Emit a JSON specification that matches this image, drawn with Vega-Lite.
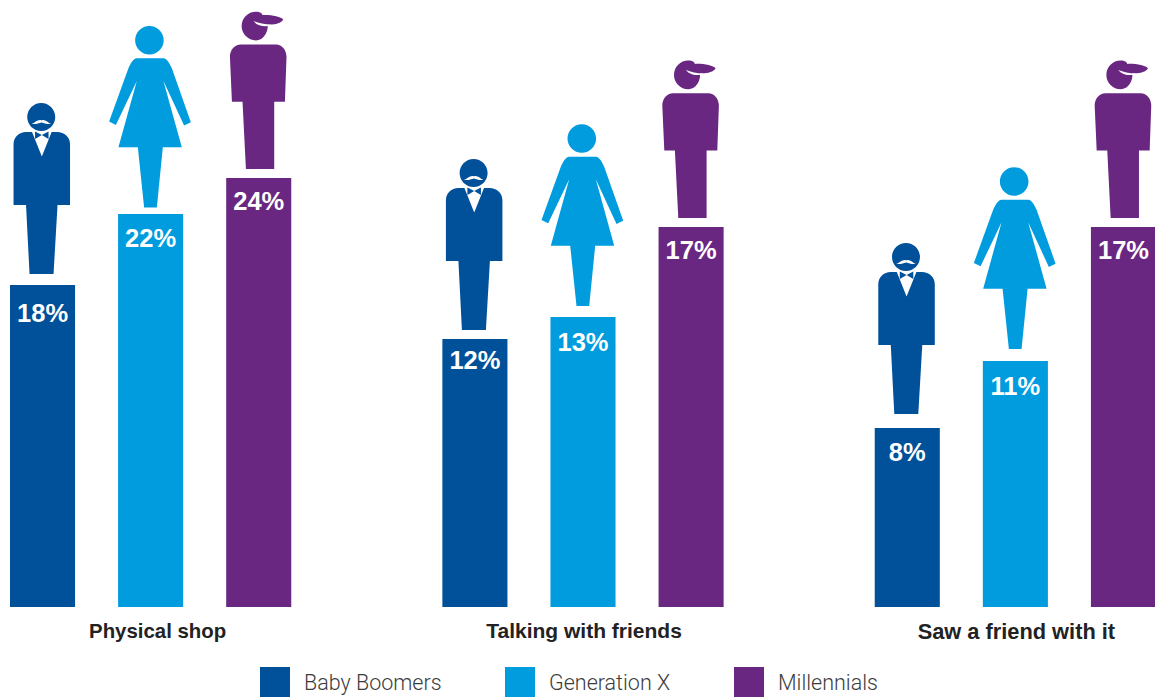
{
"$schema":"https://vega.github.io/schema/vega-lite/v6.json",
"width":1155,"height":697,"padding":0,"autosize":{"type":"none"},
"background":"white",
"config":{"view":{"stroke":null}},
"data":{"values":[
{"slot":"A1","group":"Physical shop","generation":"Baby Boomers","share":18,"label":"18%","level":14.38,"feet":14.87,"labelAt":13.08},
{"slot":"A2","group":"Physical shop","generation":"Generation X","share":22,"label":"22%","level":17.54,"feet":17.83,"labelAt":16.42},
{"slot":"A3","group":"Physical shop","generation":"Millennials","share":24,"label":"24%","level":19.15,"feet":19.55,"labelAt":18.08},
{"slot":"B1","group":"Talking with friends","generation":"Baby Boomers","share":12,"label":"12%","level":11.96,"feet":12.37,"labelAt":10.98},
{"slot":"B2","group":"Talking with friends","generation":"Generation X","share":13,"label":"13%","level":12.95,"feet":13.44,"labelAt":11.78},
{"slot":"B3","group":"Talking with friends","generation":"Millennials","share":17,"label":"17%","level":16.96,"feet":17.37,"labelAt":15.89},
{"slot":"C1","group":"Saw a friend with it","generation":"Baby Boomers","share":8,"label":"8%","level":7.99,"feet":8.62,"labelAt":6.87},
{"slot":"C2","group":"Saw a friend with it","generation":"Generation X","share":11,"label":"11%","level":10.98,"feet":11.52,"labelAt":9.82},
{"slot":"C3","group":"Saw a friend with it","generation":"Millennials","share":17,"label":"17%","level":16.96,"feet":17.37,"labelAt":15.89}
]},
"encoding":{
"x":{"field":"slot","type":"nominal","axis":null,"sort":null,"scale":{"type":"band","domain":["A1","A2","A3","gap1","B1","B2","B3","gap2","C1","C2","C3"],"range":[10,1156],"paddingInner":0.398,"paddingOuter":0}}
},
"layer":[
{"mark":{"type":"bar"},
 "encoding":{
  "y":{"field":"level","type":"quantitative","axis":null,"scale":{"domain":[-4.018,27.098],"range":[697,0],"nice":false,"zero":false}},
  "color":{"field":"generation","type":"nominal","scale":{"domain":["Baby Boomers","Generation X","Millennials"],"range":["#00509A","#009CDE","#6A2782"]},
   "legend":{"orient":"none","legendX":260,"legendY":667,"direction":"horizontal","title":null,"symbolType":"square","symbolSize":900,"symbolStrokeWidth":0,"symbolOpacity":1,"labelFont":"Roboto","labelFontWeight":300,"labelFontSize":21.5,"labelColor":"#3c3c3c","labelOffset":14,"columnPadding":63,"padding":0,"labelLimit":300,"labelBaseline":"middle","encoding":{"labels":{"dy":{"value":2}}}}}
 }},
{"transform":[{"filter":"datum.generation==='Baby Boomers'"}],
 "mark":{"type":"point","filled":true,"opacity":1,"strokeWidth":0,"size":4,"fill":"#00509A","xOffset":-1.5,
  "shape":"M-27.5,-69 L-27.5,-130 C-27.5,-137 -22,-142 -15,-142 L16,-142 C23.5,-142 29,-137 29,-130 L29,-69 L16.5,-69 L12.5,0 L-11.5,0 L-15,-69 Z M-13.8,-157 C-13.8,-164.7 -7.5,-171 0.2,-171 C7.9,-171 14.2,-164.7 14.2,-157 C14.2,-149.3 7.9,-143 0.2,-143 C-7.5,-143 -13.8,-149.3 -13.8,-157 Z"},
 "encoding":{"y":{"field":"feet","type":"quantitative"}}},
{"transform":[{"filter":"datum.generation==='Baby Boomers'"}],
 "mark":{"type":"point","filled":true,"opacity":1,"strokeWidth":0,"size":4,"fill":"white","xOffset":-1.5,
  "shape":"M-9.2,-142.3 L0.8,-117.3 L10.8,-142.3 Z M-9.5,-150 C-6,-151 -3,-155 0.5,-153.5 C4,-155 7,-151 10,-150 C6,-149.5 3,-151 0.5,-151.5 C-2,-151 -5,-149.5 -9.5,-150 Z"},
 "encoding":{"y":{"field":"feet","type":"quantitative"}}},
{"transform":[{"filter":"datum.generation==='Baby Boomers'"}],
 "mark":{"type":"point","filled":true,"opacity":1,"strokeWidth":0,"size":4,"fill":"#00509A","xOffset":-1.5,
  "shape":"M0.8,-139 L-6,-142.5 L-6,-135 Z M0.8,-139 L7.5,-142.5 L7.5,-135 Z"},
 "encoding":{"y":{"field":"feet","type":"quantitative"}}},
{"transform":[{"filter":"datum.generation==='Generation X'"}],
 "mark":{"type":"point","filled":true,"opacity":1,"strokeWidth":0,"size":4,"fill":"#009CDE","xOffset":-0.5,
  "shape":"M-13.3,-149.3 L13.3,-149.3 C17,-149.3 20,-143 21.7,-139.3 L40.7,-85.3 L34,-82 L13.3,-126.7 L31.7,-60.3 L12.7,-60.3 L6.7,0 L-6,0 L-12.3,-60.3 L-31.7,-60.3 L-13.3,-126.7 L-34.3,-82.7 L-41,-86 L-21.7,-139.3 C-20,-143 -17,-149.3 -13.3,-149.3 Z M-15,-167.4 C-15,-175.3 -8.6,-181.7 -0.7,-181.7 C7.2,-181.7 13.6,-175.3 13.6,-167.4 C13.6,-159.5 7.2,-153.1 -0.7,-153.1 C-8.6,-153.1 -15,-159.5 -15,-167.4 Z"},
 "encoding":{"y":{"field":"feet","type":"quantitative"}}},
{"transform":[{"filter":"datum.generation==='Millennials'"}],
 "mark":{"type":"point","filled":true,"opacity":1,"strokeWidth":0,"size":4,"fill":"#6A2782","xOffset":-0.5,
  "shape":"M-26.3,-67.3 L-28.3,-112.3 C-28.3,-119 -24,-124.7 -17.3,-124.7 L17.7,-124.7 C24,-124.7 28.3,-119 28.3,-112.3 L26.7,-67.3 L16,-67.3 L16,0 L-12.3,0 L-15.7,-67.3 Z M-16.6,-143 C-16.6,-150.9 -10.2,-157.3 -2.3,-157.3 C2,-157.3 4,-155.5 4.3,-154 C12,-154.5 23,-152.5 25,-149.7 C23,-145.7 15,-144 9.3,-144.7 C10.5,-138 5.6,-128.7 -2.3,-128.7 C-10.2,-128.7 -16.6,-135.1 -16.6,-143 Z"},
 "encoding":{"y":{"field":"feet","type":"quantitative"}}},
{"transform":[{"filter":"datum.generation==='Millennials'"}],
 "mark":{"type":"point","filled":true,"opacity":1,"strokeWidth":0,"size":4,"fill":"white","xOffset":-0.5,
  "shape":"M-4.7,-148 C0,-146 6,-145 13.7,-144 C9,-142 0,-142 -4.7,-148 Z"},
 "encoding":{"y":{"field":"feet","type":"quantitative"}}},
{"mark":{"type":"text","font":"Liberation Sans","fontWeight":"bold","fontSize":25.5,"color":"white","align":"center","baseline":"middle"},
 "encoding":{"y":{"field":"labelAt","type":"quantitative"},"text":{"field":"label"}}},
{"transform":[{"filter":"datum.generation==='Generation X'"},{"filter":"datum.group==='Physical shop'"}],
 "mark":{"type":"text","font":"Liberation Sans","fontWeight":"bold","fontSize":20.4,"color":"#222222","align":"center","baseline":"middle","dx":7,"y":632},
 "encoding":{"text":{"field":"group"}}},
{"transform":[{"filter":"datum.generation==='Generation X'"},{"filter":"datum.group==='Talking with friends'"}],
 "mark":{"type":"text","font":"Liberation Sans","fontWeight":"bold","fontSize":21,"color":"#222222","align":"center","baseline":"middle","dx":1,"y":632},
 "encoding":{"text":{"field":"group"}}},
{"transform":[{"filter":"datum.generation==='Generation X'"},{"filter":"datum.group==='Saw a friend with it'"}],
 "mark":{"type":"text","font":"Liberation Sans","fontWeight":"bold","fontSize":21.8,"color":"#222222","align":"center","baseline":"middle","dx":1,"y":632},
 "encoding":{"text":{"field":"group"}}}
]
}
